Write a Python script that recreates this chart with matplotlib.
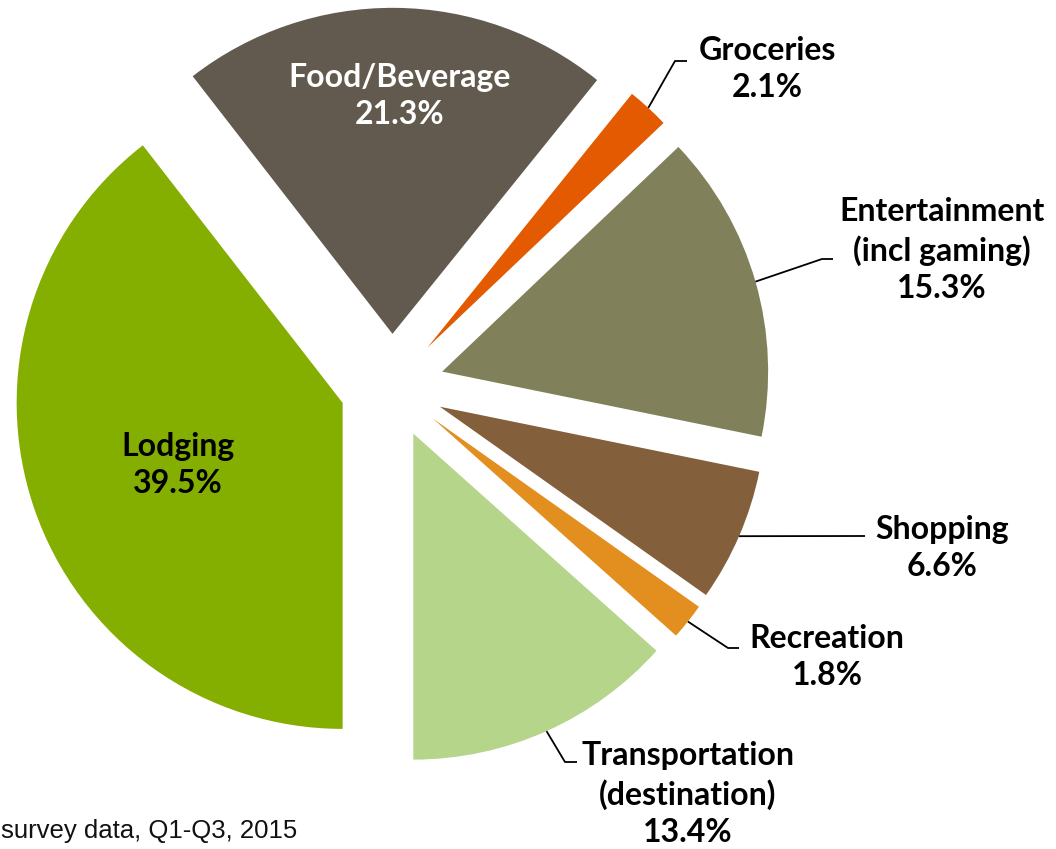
import numpy as np
import matplotlib.pyplot as plt

# Категории и доли расходов
categories = ["Lodging", "Food/Beverage", "Groceries", "Entertainment\n(incl gaming)",
              "Shopping", "Recreation", "Transportation\n(destination)"]
shares = [39.5, 21.3, 2.1, 15.3, 6.6, 1.8, 13.4]
colors = ["#84AE00", "#625A4E", "#E35A00", "#80815A", "#845F3B", "#E38F20", "#B5D58A"]
footnote = "survey data, Q1-Q3, 2015"

W, H = 1056, 849
CX, CY, R = 392, 386, 326


def px(x, y):
    # пиксели картинки -> координаты осей (радиус пирога = 1)
    return (x - CX) / R, (CY - y) / R


# позиции подписей (центр блока текста) и изломы выносок, в пикселях
label_pos = {
    0: (178, 465), 1: (400, 96), 2: (767, 69), 3: (942, 250),
    4: (942, 548), 5: (827, 657), 6: (688, 794),
}
leaders = {
    2: [(675, 61), (687, 61)],
    3: [(822, 259), (833, 259)],
    4: [(865, 536), (865, 536)],
    5: [(728, 648), (739, 648)],
    6: [(565, 762), (577, 762)],
}
inside_color = {0: "black", 1: "white"}

fig = plt.figure(figsize=(W / 100, H / 100), dpi=100)
ax = fig.add_axes([0, 0, 1, 1])
wedges, _ = ax.pie(shares, colors=colors, startangle=270, counterclock=False,
                   explode=[0.16] * len(shares), radius=1)
ax.set_xlim(px(0, 0)[0], px(W, 0)[0])
ax.set_ylim(px(0, H)[1], px(0, 0)[1])
ax.set_aspect("equal")
ax.axis("off")

font = dict(family=["Lato", "DejaVu Sans"], fontweight="bold", fontsize=23,
            ha="center", va="center", linespacing=1.33)

for i, (w, cat, s) in enumerate(zip(wedges, categories, shares)):
    x, y = px(*label_pos[i])
    ax.text(x, y, f"{cat}\n{s:.1f}%", color=inside_color.get(i, "black"), **font)
    if i in leaders:
        mid = np.deg2rad((w.theta1 + w.theta2) / 2)
        ax0 = w.center[0] + w.r * np.cos(mid)
        ay0 = w.center[1] + w.r * np.sin(mid)
        pts = [(ax0, ay0)] + [px(*p) for p in leaders[i]]
        ax.plot([p[0] for p in pts], [p[1] for p in pts], color="black", lw=1.3,
                solid_capstyle="butt")

fx, fy = px(1, 831)
ax.text(fx, fy, footnote, family="Liberation Sans", fontsize=18.5, ha="left", va="center",
        color="#111111")

fig.savefig("out.png", dpi=100)
